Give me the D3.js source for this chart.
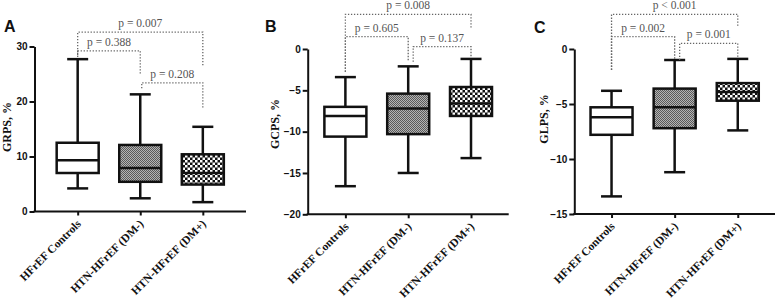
<!DOCTYPE html>
<html>
<head>
<meta charset="utf-8">
<script src="https://cdn.jsdelivr.net/npm/d3@7"></script>
<style>
  body { margin: 0; background: #fff; }
  .tick text { font-family: "Liberation Sans", Arial, sans-serif; font-weight: bold; font-size: 10px; fill: #111; }
  .cat { font-family: "Liberation Serif", "Times New Roman", serif; font-weight: bold; font-size: 11.5px; fill: #111; }
  .ytitle { font-family: "Liberation Serif", "Times New Roman", serif; font-weight: bold; font-size: 12px; fill: #111; }
  .pval { font-family: "Liberation Serif", "Times New Roman", serif; font-size: 11.5px; fill: #555; }
  .letter { font-family: "Liberation Sans", Arial, sans-serif; font-weight: bold; font-size: 16px; fill: #111; }
</style>
</head>
<body>
<div id="chart"></div>
<script>
// groups (same for every panel)
const groups = ["HFrEF Controls", "HTN-HFrEF (DM-)", "HTN-HFrEF (DM+)"];

// [min, q1, median, q3, max] per group
const grpsStats = [[4.2, 7.0, 9.3, 12.5, 27.7], [2.4, 5.4, 7.9, 12.1, 21.3], [1.7, 4.9, 7.0, 10.4, 15.4]];
const gcpsStats = [[-16.6, -10.6, -8.1, -7.0, -3.4], [-15.0, -10.3, -7.2, -5.4, -2.1], [-13.2, -8.1, -6.6, -4.6, -1.2]];
const glpsStats = [[-13.4, -7.8, -6.2, -5.3, -3.8], [-11.2, -7.2, -5.3, -3.6, -1.0], [-7.4, -4.7, -3.9, -3.1, -0.9]];

// y tick labels
const grpsTicks = [0, 10, 20, 30];
const gcpsTicks = [-20, -15, -10, -5, 0];
const glpsTicks = [-15, -10, -5, 0];

// p-values: 1 vs 3, 1 vs 2, 2 vs 3
const grpsP = ["p = 0.007", "p = 0.388", "p = 0.208"];
const gcpsP = ["p = 0.008", "p = 0.605", "p = 0.137"];
const glpsP = ["p < 0.001", "p = 0.002", "p = 0.001"];

const W = 784, H = 303;
const svg = d3.select("#chart").append("svg")
    .attr("width", W)
    .attr("height", H);

// fill patterns
let defs = svg.append("defs");
let fine = defs.append("pattern").attr("id", "fine")
    .attr("patternUnits", "userSpaceOnUse").attr("width", 2).attr("height", 2);
fine.append("rect").attr("width", 2).attr("height", 2).attr("fill", "#b4b4b4");
fine.append("rect").attr("width", 1).attr("height", 1).attr("fill", "#5a5a5a");
fine.append("rect").attr("x", 1).attr("y", 1).attr("width", 1).attr("height", 1).attr("fill", "#5a5a5a");

let check = defs.append("pattern").attr("id", "check")
    .attr("patternUnits", "userSpaceOnUse").attr("width", 5).attr("height", 5);
check.append("rect").attr("width", 5).attr("height", 5).attr("fill", "#111");
check.append("rect").attr("width", 2.5).attr("height", 2.5).attr("fill", "#fff");
check.append("rect").attr("x", 2.5).attr("y", 2.5).attr("width", 2.5).attr("height", 2.5).attr("fill", "#fff");

const fills = ["#fff", "url(#fine)", "url(#check)"];

// panels: layout in px, brackets in data units
const panels = [
    {letter: "A", lx: 4, ly: 32, title: "GRPS, %", tx: 10.5, ty: 127,
     stats: grpsStats, ticks: grpsTicks, domain: [0, 30], pv: grpsP,
     left: 34.5, right: 246, top: 46.5, bottom: 211.5, pad: 0.69,
     brackets: [
        {a: 0, b: 2, bar: 32.6, la: 28.4, lb: 26.5, dx: 0},
        {a: 0, b: 1, bar: 29.2, la: 28.1, lb: 24.8, dx: 0},
        {a: 1, b: 2, bar: 23.4, la: 22.4, lb: 18.8, dx: 1.5}
     ]},
    {letter: "B", lx: 265, ly: 32, title: "GCPS, %", tx: 279, ty: 124,
     stats: gcpsStats, ticks: gcpsTicks, domain: [-20, 0], pv: gcpsP,
     left: 307.7, right: 508.7, top: 49, bottom: 214.3, pad: 0.6,
     brackets: [
        {a: 0, b: 2, bar: 4.2, la: -2.75, lb: 2.5, dx: 0},
        {a: 0, b: 1, bar: 1.49, la: -2.75, lb: -1.54, dx: 0},
        {a: 1, b: 2, bar: 0.28, la: -1.54, lb: -0.93, dx: 5}
     ]},
    {letter: "C", lx: 534, ly: 33, title: "GLPS, %", tx: 548, ty: 119,
     stats: glpsStats, ticks: glpsTicks, domain: [-15, 0], pv: glpsP,
     left: 574.3, right: 775, top: 49, bottom: 214, pad: 0.59,
     brackets: [
        {a: 0, b: 2, bar: 3.15, la: -1.9, lb: 2.03, dx: 0},
        {a: 0, b: 1, bar: 1.12, la: -1.9, lb: -1.0, dx: 0},
        {a: 1, b: 2, bar: 0.52, la: -1.0, lb: -0.7, dx: 5}
     ]}
];

panels.forEach(p => drawPanel(p));

function drawPanel(p) {
    let g = svg.append("g");

    let x = d3.scalePoint()
        .domain(groups)
        .range([p.left, p.right])
        .padding(p.pad);

    let y = d3.scaleLinear()
        .domain(p.domain)
        .range([p.bottom, p.top]);

    let yAxis = d3.axisLeft(y).tickValues(p.ticks).tickSize(5).tickSizeOuter(0).tickPadding(2);
    let xAxis = d3.axisBottom(x).tickSize(4).tickSizeOuter(0).tickFormat("");

    let ya = g.append("g").attr("transform", `translate(${p.left},0)`).call(yAxis);
    let xa = g.append("g").attr("transform", `translate(0,${p.bottom})`).call(xAxis);
    [ya, xa].forEach(a => {
        a.select(".domain").attr("stroke", "#111").attr("stroke-width", 2);
        a.selectAll(".tick line").attr("stroke", "#111").attr("stroke-width", 2);
    });
    // x axis runs from the y axis
    xa.select(".domain").attr("d", `M${p.left - 1},0H${p.right}`);

    // category labels
    g.selectAll(".cat").data(groups).enter()
        .append("text")
        .attr("class", "cat")
        .attr("text-anchor", "end")
        .attr("transform", d => `translate(${x(d) + 4},${p.bottom + 13}) rotate(-45)`)
        .text(d => d);

    // y title
    g.append("text").attr("class", "ytitle")
        .attr("text-anchor", "middle")
        .attr("transform", `translate(${p.tx},${p.ty}) rotate(-90)`)
        .text(p.title);

    g.append("text").attr("class", "letter")
        .attr("x", p.lx).attr("y", p.ly).text(p.letter);

    // boxes
    let bw = 42, cw = 21;
    let box = g.selectAll(".box").data(p.stats).enter()
        .append("g").attr("class", "box");

    box.append("line")
        .attr("x1", (d, i) => x(groups[i])).attr("x2", (d, i) => x(groups[i]))
        .attr("y1", d => y(d[0])).attr("y2", d => y(d[4]))
        .attr("stroke", "#111").attr("stroke-width", 2.5);
    box.append("line")
        .attr("x1", (d, i) => x(groups[i]) - cw / 2).attr("x2", (d, i) => x(groups[i]) + cw / 2)
        .attr("y1", d => y(d[0])).attr("y2", d => y(d[0]))
        .attr("stroke", "#111").attr("stroke-width", 2.5);
    box.append("line")
        .attr("x1", (d, i) => x(groups[i]) - cw / 2).attr("x2", (d, i) => x(groups[i]) + cw / 2)
        .attr("y1", d => y(d[4])).attr("y2", d => y(d[4]))
        .attr("stroke", "#111").attr("stroke-width", 2.5);
    box.append("rect")
        .attr("x", (d, i) => x(groups[i]) - bw / 2)
        .attr("width", bw)
        .attr("y", d => y(d[3]))
        .attr("height", d => y(d[1]) - y(d[3]))
        .attr("fill", (d, i) => fills[i])
        .attr("stroke", "#111").attr("stroke-width", 2.5);
    box.append("line")
        .attr("x1", (d, i) => x(groups[i]) - bw / 2).attr("x2", (d, i) => x(groups[i]) + bw / 2)
        .attr("y1", d => y(d[2])).attr("y2", d => y(d[2]))
        .attr("stroke", "#111").attr("stroke-width", 2.5);

    // significance brackets
    p.brackets.forEach((b, i) => {
        let xa1 = x(groups[b.a]) + b.dx, xb1 = x(groups[b.b]);
        g.append("path")
            .attr("d", `M${xa1},${y(b.la)}V${y(b.bar)}H${xb1}V${y(b.lb)}`)
            .attr("fill", "none")
            .attr("stroke", "#666")
            .attr("stroke-width", 1.3)
            .attr("stroke-dasharray", "1.3,1.7");
        g.append("text").attr("class", "pval")
            .attr("text-anchor", "middle")
            .attr("x", (xa1 + xb1) / 2)
            .attr("y", y(b.bar) - 5)
            .text(p.pv[i]);
    });
}
</script>
</body>
</html>
